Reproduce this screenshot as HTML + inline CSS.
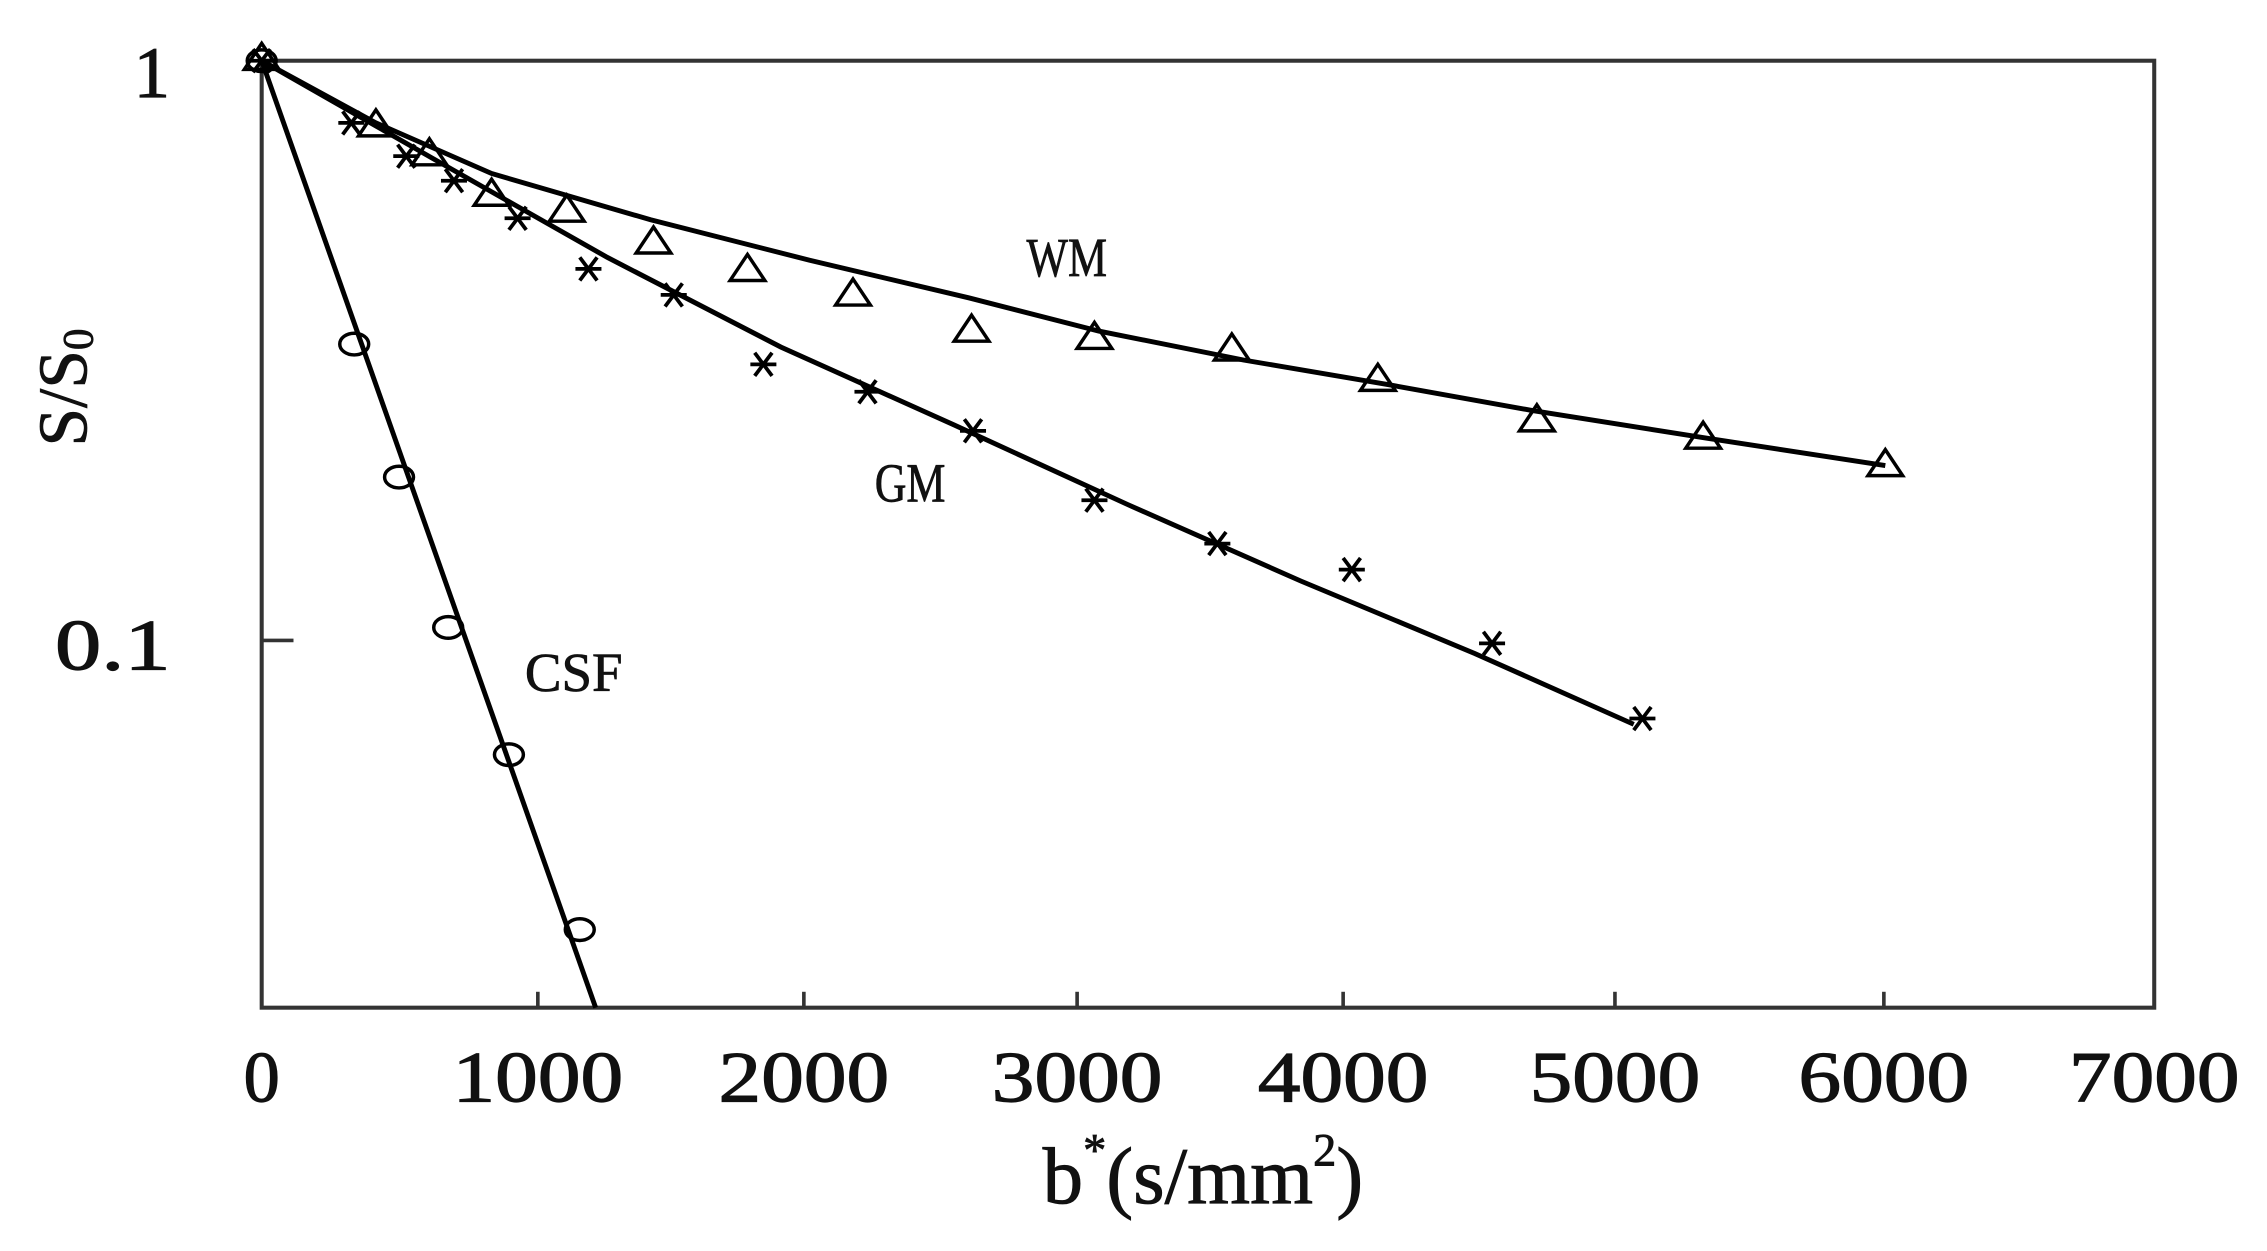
<!DOCTYPE html>
<html><head><meta charset="utf-8"><style>html,body{margin:0;padding:0;background:#fff}svg{display:block}</style></head>
<body>
<svg width="2267" height="1251" viewBox="0 0 1568 865.3" preserveAspectRatio="none" xmlns="http://www.w3.org/2000/svg">
<defs>
<g id="tri"><path d="M0,-10 L12,8 L-12,8 Z" fill="none" stroke="#000" stroke-width="2.4"/></g>
<g id="ast" stroke="#000" stroke-width="2.6"><line x1="-9" y1="0" x2="9" y2="0"/><line x1="-6" y1="-8" x2="6" y2="8"/><line x1="-6" y1="8" x2="6" y2="-8"/></g>
<g id="cir"><ellipse cx="0" cy="0" rx="10" ry="7.5" fill="none" stroke="#000" stroke-width="2.4"/></g>
</defs>
<rect x="181" y="42" width="1309" height="655" fill="none" stroke="#333" stroke-width="2.8"/>
<g stroke="#333" stroke-width="2.5">
<line x1="372" y1="697" x2="372" y2="686"/><line x1="556" y1="697" x2="556" y2="686"/><line x1="745" y1="697" x2="745" y2="686"/><line x1="929" y1="697" x2="929" y2="686"/><line x1="1117" y1="697" x2="1117" y2="686"/><line x1="1303" y1="697" x2="1303" y2="686"/>
<line x1="181" y1="443" x2="203" y2="443"/>
</g>
<g font-family="Liberation Serif, serif" font-size="50" fill="#111" stroke="#111" stroke-width="0.8" text-anchor="middle">
<text x="181" y="762">0</text><text x="372" y="762" textLength="118" lengthAdjust="spacingAndGlyphs">1000</text><text x="556" y="762" textLength="118" lengthAdjust="spacingAndGlyphs">2000</text><text x="745" y="762" textLength="118" lengthAdjust="spacingAndGlyphs">3000</text><text x="929" y="762" textLength="118" lengthAdjust="spacingAndGlyphs">4000</text><text x="1117" y="762" textLength="118" lengthAdjust="spacingAndGlyphs">5000</text><text x="1303" y="762" textLength="118" lengthAdjust="spacingAndGlyphs">6000</text><text x="1490" y="762" textLength="118" lengthAdjust="spacingAndGlyphs">7000</text>
<text x="105" y="67">1</text><text x="78" y="463" textLength="80" lengthAdjust="spacingAndGlyphs">0.1</text>
</g>
<text x="832" y="832" font-family="Liberation Serif, serif" font-size="56" text-anchor="middle" fill="#111" stroke="#111" stroke-width="0.6">b<tspan dy="-26" font-size="32">*</tspan><tspan dy="26">(s/mm</tspan><tspan dy="-26" font-size="32">2</tspan><tspan dy="26">)</tspan></text>
<text transform="translate(60,268) rotate(-90)" font-family="Liberation Serif, serif" font-size="48" text-anchor="middle" fill="#111" stroke="#111" stroke-width="0.5">S/S<tspan font-size="30" dy="4">0</tspan></text>
<g font-family="Liberation Serif, serif" font-size="38" fill="#111" stroke="#111" stroke-width="0.5">
<text transform="translate(710,191) scale(0.8,1)">WM</text>
<text transform="translate(605,347) scale(0.8,1)">GM</text>
<text x="363" y="478">CSF</text>
</g>
<g fill="none" stroke="#000" stroke-width="3.4">
<polyline points="181,42 260,85 340,120 450,152 560,180 670,206 760,229 860,249 960,266 1060,284 1180,303 1304,322"/>
<polyline points="181,42 300,110 420,178 540,240 660,294 780,349 900,402 1020,452 1130,501"/>
<line x1="181" y1="42" x2="412" y2="697"/>
</g>
<g>
<use href="#tri" x="181" y="40"/><use href="#tri" x="260" y="86"/><use href="#tri" x="297" y="106"/><use href="#tri" x="340" y="134"/><use href="#tri" x="392" y="145"/><use href="#tri" x="452" y="167"/><use href="#tri" x="517" y="186"/><use href="#tri" x="590" y="203"/><use href="#tri" x="672" y="228"/><use href="#tri" x="757" y="233"/><use href="#tri" x="852" y="241"/><use href="#tri" x="953" y="262"/><use href="#tri" x="1063" y="290"/><use href="#tri" x="1178" y="302"/><use href="#tri" x="1304" y="321"/>
<use href="#ast" x="181" y="42"/><use href="#ast" x="243" y="85"/><use href="#ast" x="281" y="108"/><use href="#ast" x="314" y="125"/><use href="#ast" x="358" y="151"/><use href="#ast" x="407" y="186"/><use href="#ast" x="466" y="204"/><use href="#ast" x="528" y="252"/><use href="#ast" x="600" y="271"/><use href="#ast" x="673" y="298"/><use href="#ast" x="757" y="346"/><use href="#ast" x="842" y="376"/><use href="#ast" x="935" y="394"/><use href="#ast" x="1032" y="445"/><use href="#ast" x="1136" y="497"/>
<use href="#cir" x="181" y="42"/><use href="#cir" x="245" y="238"/><use href="#cir" x="276" y="330"/><use href="#cir" x="310" y="434"/><use href="#cir" x="352" y="522"/><use href="#cir" x="401" y="643"/>
</g>
</svg>
</body></html>
